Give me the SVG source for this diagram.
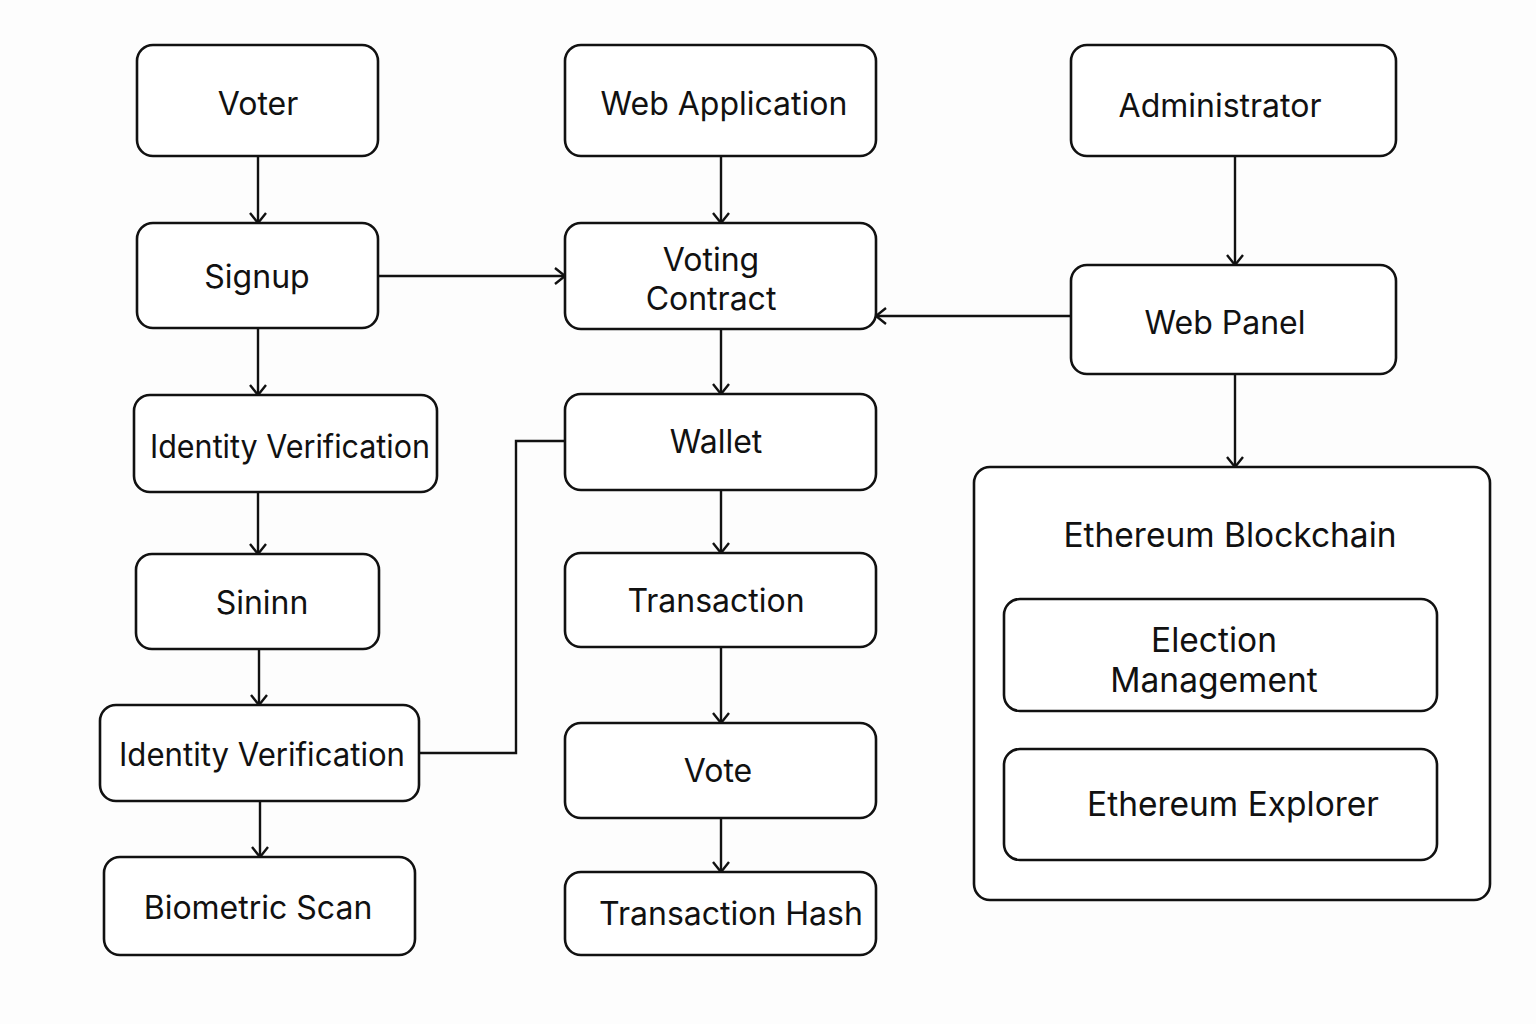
<svg xmlns="http://www.w3.org/2000/svg" width="1536" height="1024" viewBox="0 0 1536 1024">
<defs>
<marker id="arr" markerUnits="userSpaceOnUse" markerWidth="16" markerHeight="22" refX="12" refY="9" orient="auto">
<path d="M2,1 L12,9 L2,17" fill="none" stroke="#111" stroke-width="2.4"/>
</marker>
<style>
.box{fill:#fff;stroke:#111;stroke-width:2.6}
.t{font-family:Inter,"Liberation Sans",sans-serif;font-size:32px;fill:#111;text-anchor:middle;dominant-baseline:central}
.big{font-size:33.5px}
.c{fill:none;stroke:#111;stroke-width:2.4}
</style>
</defs>
<rect width="1536" height="1024" fill="#fdfdfd"/>
<g id="connectors">
<line class="c" x1="258" y1="157" x2="258" y2="223" marker-end="url(#arr)"/>
<line class="c" x1="258" y1="329" x2="258" y2="395" marker-end="url(#arr)"/>
<line class="c" x1="258" y1="493" x2="258" y2="554" marker-end="url(#arr)"/>
<line class="c" x1="259" y1="650" x2="259" y2="705" marker-end="url(#arr)"/>
<line class="c" x1="260" y1="802" x2="260" y2="857" marker-end="url(#arr)"/>
<line class="c" x1="379" y1="276" x2="565" y2="276" marker-end="url(#arr)"/>
<line class="c" x1="721" y1="157" x2="721" y2="223" marker-end="url(#arr)"/>
<line class="c" x1="721" y1="330" x2="721" y2="394" marker-end="url(#arr)"/>
<line class="c" x1="721" y1="491" x2="721" y2="553" marker-end="url(#arr)"/>
<line class="c" x1="721" y1="648" x2="721" y2="723" marker-end="url(#arr)"/>
<line class="c" x1="721" y1="819" x2="721" y2="872" marker-end="url(#arr)"/>
<line class="c" x1="1235" y1="157" x2="1235" y2="265" marker-end="url(#arr)"/>
<line class="c" x1="1071" y1="316" x2="876" y2="316" marker-end="url(#arr)"/>
<line class="c" x1="1235" y1="375" x2="1235" y2="467" marker-end="url(#arr)"/>
<polyline class="c" points="420,753 516,753 516,441 565,441"/>
</g>
<g id="voter"><rect class="box" x="137" y="45" width="241" height="111" rx="16"/><text class="t" x="258" y="103">Voter</text></g>
<g id="web-application"><rect class="box" x="565" y="45" width="311" height="111" rx="16"/><text class="t" x="724" y="103">Web Application</text></g>
<g id="administrator"><rect class="box" x="1071" y="45" width="325" height="111" rx="16"/><text class="t" x="1220" y="105">Administrator</text></g>
<g id="signup"><rect class="box" x="137" y="223" width="241" height="105" rx="16"/><text class="t" x="257" y="276">Signup</text></g>
<g id="voting-contract"><rect class="box" x="565" y="223" width="311" height="106" rx="16"/><text class="t" x="711" y="259">Voting</text><text class="t" x="711" y="298">Contract</text></g>
<g id="web-panel"><rect class="box" x="1071" y="265" width="325" height="109" rx="16"/><text class="t" x="1225" y="322">Web Panel</text></g>
<g id="identity-verification-1"><rect class="box" x="134" y="395" width="303" height="97" rx="16"/><text class="t" x="290" y="446" textLength="280" lengthAdjust="spacingAndGlyphs">Identity Verification</text></g>
<g id="wallet"><rect class="box" x="565" y="394" width="311" height="96" rx="16"/><text class="t" x="716" y="441">Wallet</text></g>
<g id="ethereum-blockchain"><rect class="box" x="974" y="467" width="516" height="433" rx="16"/><text class="t big" x="1230" y="535">Ethereum Blockchain</text></g>
<g id="sininn"><rect class="box" x="136" y="554" width="243" height="95" rx="16"/><text class="t" x="262" y="602">Sininn</text></g>
<g id="transaction"><rect class="box" x="565" y="553" width="311" height="94" rx="16"/><text class="t" x="716" y="600">Transaction</text></g>
<g id="election-management"><rect class="box" x="1004" y="599" width="433" height="112" rx="16"/><text class="t big" x="1214" y="640">Election</text><text class="t big" x="1214" y="680">Management</text></g>
<g id="identity-verification-2"><rect class="box" x="100" y="705" width="319" height="96" rx="16"/><text class="t" x="262" y="754" textLength="286" lengthAdjust="spacingAndGlyphs">Identity Verification</text></g>
<g id="vote"><rect class="box" x="565" y="723" width="311" height="95" rx="16"/><text class="t" x="718" y="770">Vote</text></g>
<g id="ethereum-explorer"><rect class="box" x="1004" y="749" width="433" height="111" rx="16"/><text class="t big" x="1233" y="804">Ethereum Explorer</text></g>
<g id="biometric-scan"><rect class="box" x="104" y="857" width="311" height="98" rx="16"/><text class="t" x="258" y="907">Biometric Scan</text></g>
<g id="transaction-hash"><rect class="box" x="565" y="872" width="311" height="83" rx="16"/><text class="t" x="731" y="913">Transaction Hash</text></g>
</svg>
